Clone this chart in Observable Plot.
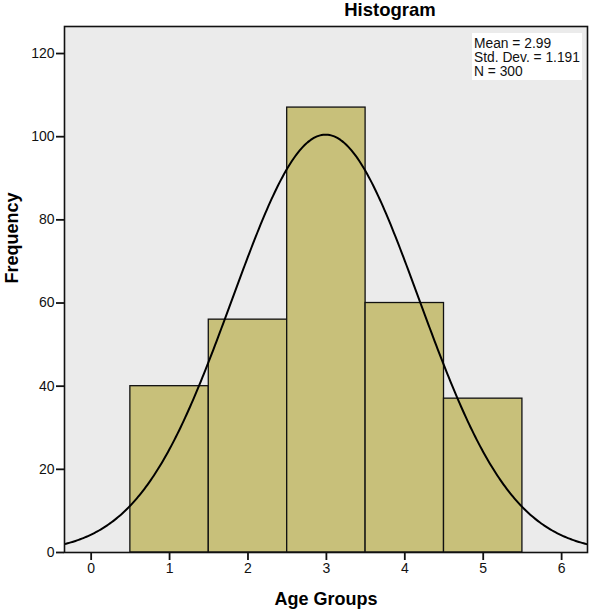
<!DOCTYPE html>
<html>
<head>
<meta charset="utf-8">
<script src="https://cdn.jsdelivr.net/npm/d3@7"></script>
<script src="https://cdn.jsdelivr.net/npm/@observablehq/plot@0.6"></script>
<style>
  html, body { margin: 0; padding: 0; background: #fff; }
</style>
</head>
<body>
<div id="chart"></div>
<script>
// Age group categories and their frequencies
const ageGroups = [1, 2, 3, 4, 5];
const frequencies = [40, 56, 107, 60, 37];

// Summary statistics reported for the distribution
const mean = 2.99;
const stdDev = 1.191;
const n = 300;
const binWidth = 1;

// Axis ticks
const xTicks = [0, 1, 2, 3, 4, 5, 6];
const yTicks = [0, 20, 40, 60, 80, 100, 120];
const xDomain = [-0.34, 6.33];
const yDomain = [0, 126.5];

const bars = ageGroups.map((g, i) => ({x1: g - binWidth / 2, x2: g + binWidth / 2, count: frequencies[i]}));

// Fitted normal curve scaled to counts (N × bin width × density)
const curve = d3.range(xDomain[0], xDomain[1] + 0.01, 0.02).map(x => ({
  x,
  y: n * binWidth / (stdDev * Math.sqrt(2 * Math.PI)) * Math.exp(-0.5 * ((x - mean) / stdDev) ** 2)
}));

const statLines = [`Mean = ${mean.toFixed(2)}`, `Std. Dev. = ${stdDev.toFixed(3)}`, `N = ${n}`];

// Statistics box in the top-right corner of the plotting area
function statsBox(index, scales, values, dims) {
  const right = dims.width - dims.marginRight;
  const top = dims.marginTop;
  const g = d3.create("svg:g");
  g.append("rect")
    .attr("x", right - 115).attr("y", top + 7)
    .attr("width", 110).attr("height", 47)
    .attr("fill", "#fff");
  g.append("g")
    .attr("font-family", "Liberation Sans, Arial, sans-serif")
    .attr("font-size", 13.8)
    .attr("text-anchor", "start")
    .attr("fill", "#111")
    .selectAll("text")
    .data(statLines)
    .join("text")
    .attr("x", right - 113)
    .attr("y", (d, i) => top + 21.5 + i * 14)
    .text(d => d);
  return g.node();
}

const plot = Plot.plot({
  width: 590,
  height: 613,
  marginLeft: 64,
  marginRight: 3,
  marginTop: 26,
  marginBottom: 61,
  style: {fontFamily: "Liberation Sans, Arial, sans-serif", fontSize: "14px", color: "#111", background: "transparent"},
  x: {domain: xDomain, ticks: xTicks, label: null},
  y: {domain: yDomain, ticks: yTicks, label: null},
  marks: [
    Plot.frame({fill: "#ebebeb"}),
    Plot.rectY(bars, {x1: "x1", x2: "x2", y: "count", fill: "#c8c07a", stroke: "#111", strokeWidth: 1.3}),
    Plot.line(curve, {x: "x", y: "y", stroke: "#000", strokeWidth: 2, clip: true, curve: "linear"}),
    statsBox,
    Plot.frame({stroke: "#111", strokeWidth: 1.6}),
    Plot.axisX({ticks: xTicks, tickFormat: "d", tickSize: 8, tickPadding: 3, strokeWidth: 1.8, fontSize: 14, label: null}),
    Plot.axisY({ticks: yTicks, tickFormat: "d", tickSize: 8, tickPadding: 2, strokeWidth: 1.8, fontSize: 14, label: null}),
    Plot.text(["Histogram"], {frameAnchor: "top", dx: 64, dy: -16, lineAnchor: "middle", fontWeight: "bold", fontSize: 18.5, fill: "#000"}),
    Plot.text(["Age Groups"], {frameAnchor: "bottom", dy: 47, lineAnchor: "middle", fontWeight: "bold", fontSize: 18, fill: "#000"}),
    Plot.text(["Frequency"], {frameAnchor: "left", dx: -52, dy: -6, rotate: -90, lineAnchor: "middle", fontWeight: "bold", fontSize: 18, fill: "#000"})
  ]
});

document.getElementById("chart").append(plot);
</script>
</body>
</html>
